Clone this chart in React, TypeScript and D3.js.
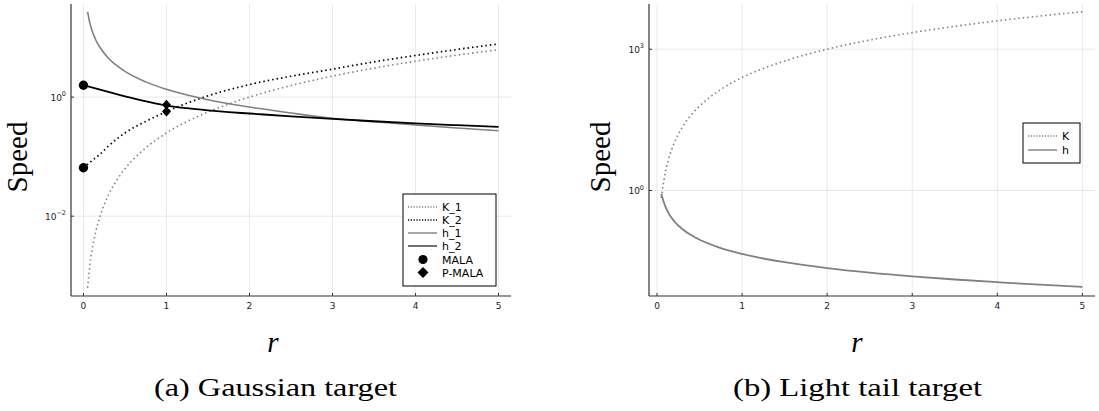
import React from "react";
import * as d3 from "d3";

// ---------- data ----------
const rGrid = [0.05, 0.075, 0.1, 0.15, 0.2, 0.3, 0.4, 0.5, 0.75, 1, 1.5, 2, 2.5, 3, 3.5, 4, 4.5, 5];
const gaussK1 = [0.00063, 0.0014, 0.0025, 0.0056, 0.01, 0.0225, 0.04, 0.0625, 0.14, 0.25, 0.56, 1.0, 1.56, 2.25, 3.06, 4.0, 5.06, 6.25];
const gaussH1 = [27, 18, 13.5, 9, 6.8, 4.5, 3.4, 2.7, 1.8, 1.35, 0.9, 0.68, 0.54, 0.44, 0.385, 0.34, 0.302, 0.272];
const rK2 = [0, 0.1, 0.2, 0.3, 0.5, 0.75, 1, 1.5, 2, 2.5, 3, 3.5, 4, 4.5, 5];
const gaussK2 = [0.065, 0.085, 0.11, 0.15, 0.25, 0.39, 0.57, 1.05, 1.62, 2.24, 2.95, 3.9, 5.0, 6.3, 7.8];
const rH2 = [0, 0.2, 0.4, 0.6, 0.8, 1, 1.25, 1.5, 1.75, 2, 2.5, 3, 3.5, 4, 4.5, 5];
const gaussH2 = [1.58, 1.33, 1.12, 0.95, 0.82, 0.72, 0.65, 0.6, 0.56, 0.53, 0.475, 0.43, 0.393, 0.362, 0.337, 0.316];
const malaR = [0, 0];
const malaV = [1.58, 0.065];
const pmalaR = [1, 1];
const pmalaV = [0.74, 0.57];

const lightK = [0.7, 1.4, 2.5, 5.6, 10, 22.5, 40, 62, 140, 250, 560, 1000, 1560, 2250, 3060, 4000, 5060, 6250];
const lightH = [0.85, 0.6, 0.45, 0.3, 0.225, 0.15, 0.113, 0.09, 0.06, 0.045, 0.03, 0.0225, 0.018, 0.015, 0.0129, 0.0113, 0.01, 0.009];

const xTicks = [0, 1, 2, 3, 4, 5];
const gaussYTicks = [-2, 0];
const lightYTicks = [0, 3];

const GRAY = "#808080";
const AXIS = "#333";
const GRID = "#e3e3e3";
const SERIF = "Liberation Serif";

type Series = { xs: number[]; ys: number[]; color: string; dotted: boolean; width: number };

function Panel(props: {
  x0: number; x1: number; y0: number; y1: number;
  xDomain: [number, number]; yDomain: [number, number];
  yTicks: number[]; series: Series[];
  children?: (x: d3.ScaleLinear<number, number>, y: d3.ScaleLogarithmic<number, number>) => React.ReactNode;
}) {
  const { x0, x1, y0, y1 } = props;
  const x = d3.scaleLinear().domain(props.xDomain).range([x0, x1]);
  const y = d3.scaleLog().domain(props.yDomain).range([y1, y0]);
  const line = (xs: number[], ys: number[]) =>
    d3.line<number>().x((_, i) => x(xs[i])).y((v) => y(v)).curve(d3.curveMonotoneX)(ys) || "";
  return (
    <g>
      {xTicks.map((t) => (
        <line key={"gx" + t} x1={x(t)} x2={x(t)} y1={y0} y2={y1} stroke={GRID} strokeWidth={0.8} />
      ))}
      {props.yTicks.map((t) => (
        <line key={"gy" + t} x1={x0} x2={x1} y1={y(Math.pow(10, t))} y2={y(Math.pow(10, t))} stroke={GRID} strokeWidth={0.8} />
      ))}
      {props.series.map((s, i) => (
        <path key={i} d={line(s.xs, s.ys)} fill="none" stroke={s.color} strokeWidth={s.width}
          strokeDasharray={s.dotted ? "1.5,3" : undefined} />
      ))}
      {props.children && props.children(x, y)}
      <line x1={x0} x2={x0} y1={y0} y2={y1} stroke={AXIS} strokeWidth={1.2} />
      <line x1={x0} x2={x1} y1={y1} y2={y1} stroke={AXIS} strokeWidth={1.2} />
      {xTicks.map((t) => (
        <g key={"tx" + t}>
          <line x1={x(t)} x2={x(t)} y1={y1} y2={y1 - 3} stroke={AXIS} strokeWidth={1} />
          <text x={x(t)} y={y1 + 13} textAnchor="middle" fontFamily="DejaVu Sans" fontSize={9} fill="#222">{t}</text>
        </g>
      ))}
      {props.yTicks.map((t) => {
        const yy = y(Math.pow(10, t));
        const exp = t < 0 ? "\u2212" + Math.abs(t) : String(t);
        return (
          <g key={"ty" + t}>
            <line x1={x0} x2={x0 + 3} y1={yy} y2={yy} stroke={AXIS} strokeWidth={1} />
            <text x={x0 - 5} y={yy + 3.5} textAnchor="end" fontFamily="DejaVu Sans" fill="#222">
              <tspan fontSize={9}>10</tspan>
              <tspan fontSize={6.5} dy={-4.5}>{exp}</tspan>
            </text>
          </g>
        );
      })}
    </g>
  );
}

function LegendRow(props: { x: number; y: number; label: string; color?: string; dotted?: boolean; marker?: "circle" | "diamond" }) {
  const { x, y } = props;
  return (
    <g>
      {props.marker === "circle" && <circle cx={x + 15} cy={y} r={4.6} fill="#000" />}
      {props.marker === "diamond" && (
        <path d={`M${x + 15},${y - 5.5}L${x + 20.5},${y}L${x + 15},${y + 5.5}L${x + 9.5},${y}Z`} fill="#000" />
      )}
      {!props.marker && (
        <line x1={x} x2={x + 29} y1={y} y2={y} stroke={props.color} strokeWidth={1.4}
          strokeDasharray={props.dotted ? "1.2,1.6" : undefined} />
      )}
      <text x={x + 34} y={y + 4} fontFamily="DejaVu Sans" fontSize={11} fill="#000">{props.label}</text>
    </g>
  );
}

export default function App() {
  const gaussSeries: Series[] = [
    { xs: rGrid, ys: gaussK1, color: GRAY, dotted: true, width: 1.6 },
    { xs: rK2, ys: gaussK2, color: "#000", dotted: true, width: 1.7 },
    { xs: rGrid, ys: gaussH1, color: GRAY, dotted: false, width: 1.6 },
    { xs: rH2, ys: gaussH2, color: "#000", dotted: false, width: 1.8 },
  ];
  const lightSeries: Series[] = [
    { xs: rGrid, ys: lightK, color: GRAY, dotted: true, width: 1.6 },
    { xs: rGrid, ys: lightH, color: GRAY, dotted: false, width: 1.8 },
  ];
  return (
    <svg width={1099} height={411} style={{ position: "absolute", left: 0, top: 0, background: "#fff" }}>
      <rect width={1099} height={411} fill="#fff" />
      <Panel x0={71} x1={511} y0={4} y1={296} xDomain={[-0.15, 5.15]}
        yDomain={[Math.pow(10, -3.34), Math.pow(10, 1.563)]} yTicks={gaussYTicks} series={gaussSeries}>
        {(x, y) => (
          <g>
            {malaR.map((r, i) => (
              <circle key={"m" + i} cx={x(r)} cy={y(malaV[i])} r={4.7} fill="#000" />
            ))}
            {pmalaR.map((r, i) => {
              const cx = x(r), cy = y(pmalaV[i]);
              return <path key={"p" + i} d={`M${cx},${cy - 5}L${cx + 4.5},${cy}L${cx},${cy + 5}L${cx - 4.5},${cy}Z`} fill="#000" />;
            })}
          </g>
        )}
      </Panel>
      <Panel x0={649} x1={1095} y0={4} y1={296} xDomain={[-0.094, 5.148]}
        yDomain={[Math.pow(10, -2.24), Math.pow(10, 3.96)]} yTicks={lightYTicks} series={lightSeries} />

      {/* left legend */}
      <rect x={403} y={194} width={93} height={92} fill="#fff" stroke="#000" strokeWidth={1} />
      <LegendRow x={408} y={207} label="K_1" color={GRAY} dotted />
      <LegendRow x={408} y={220} label="K_2" color="#000" dotted />
      <LegendRow x={408} y={233} label="h_1" color={GRAY} />
      <LegendRow x={408} y={246} label="h_2" color="#333" />
      <LegendRow x={408} y={259.5} label="MALA" marker="circle" />
      <LegendRow x={408} y={272.5} label="P-MALA" marker="diamond" />

      {/* right legend */}
      <rect x={1023} y={123} width={57} height={40} fill="#fff" stroke="#000" strokeWidth={1} />
      <LegendRow x={1028} y={136} label="K" color={GRAY} dotted />
      <LegendRow x={1028} y={150} label="h" color={GRAY} />

      {/* axis labels */}
      <text transform="translate(27,157) rotate(-90)" textAnchor="middle" fontFamily={SERIF} fontSize={29}>Speed</text>
      <text transform="translate(610,157) rotate(-90)" textAnchor="middle" fontFamily={SERIF} fontSize={29}>Speed</text>
      <text x={273} y={352} textAnchor="middle" fontFamily={SERIF} fontStyle="italic" fontSize={29}>r</text>
      <text x={857} y={352} textAnchor="middle" fontFamily={SERIF} fontStyle="italic" fontSize={29}>r</text>

      {/* captions */}
      <text x={154} y={396} fontFamily={SERIF} fontSize={25} textLength={243} lengthAdjust="spacingAndGlyphs">(a) Gaussian target</text>
      <text x={733} y={396} fontFamily={SERIF} fontSize={25} textLength={249} lengthAdjust="spacingAndGlyphs">(b) Light tail target</text>
    </svg>
  );
}
